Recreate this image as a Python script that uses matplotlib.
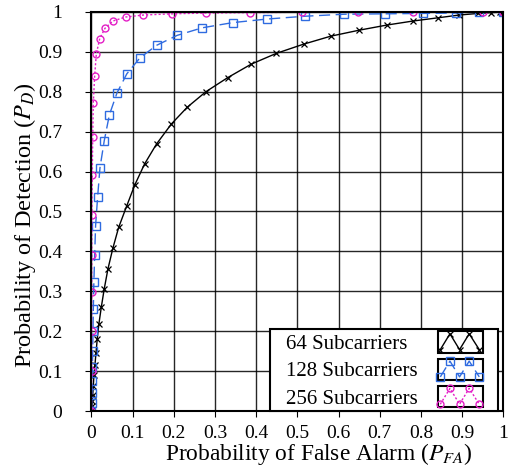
import matplotlib
matplotlib.use("Agg")
import matplotlib.pyplot as plt
from matplotlib.legend_handler import HandlerBase
from matplotlib.patches import Rectangle
from matplotlib.lines import Line2D
from matplotlib.offsetbox import DrawingArea
from matplotlib.ticker import FuncFormatter

plt.rcParams['font.family'] = ['Liberation Serif', 'DejaVu Serif']
plt.rcParams['mathtext.fontset'] = 'stix'

# ---- data ----
pfa_64 = [0, 0.001, 0.002, 0.003, 0.0045, 0.006, 0.0085, 0.011, 0.014, 0.018, 0.024,
          0.031, 0.040, 0.052, 0.066, 0.0857, 0.105, 0.129, 0.158, 0.194, 0.2325,
          0.278, 0.3305, 0.388, 0.449, 0.515, 0.581, 0.650, 0.718, 0.781, 0.841,
          0.893, 0.939, 0.969, 0.991, 1.0]
pd_64 = [0, 0.012, 0.025, 0.040, 0.062, 0.09, 0.116, 0.146, 0.180, 0.218, 0.261,
         0.306, 0.356, 0.408, 0.460, 0.514, 0.566, 0.619, 0.669, 0.719, 0.761,
         0.800, 0.835, 0.869, 0.896, 0.919, 0.939, 0.954, 0.967, 0.977, 0.985,
         0.992, 0.996, 0.998, 0.999, 1.0]

pfa_128 = [0, 0.0005, 0.001, 0.0015, 0.0022, 0.003, 0.0037, 0.0045, 0.0058, 0.0078,
           0.010, 0.015, 0.0206, 0.031, 0.0435, 0.062, 0.086, 0.118, 0.158, 0.208,
           0.269, 0.343, 0.427, 0.519, 0.614, 0.712, 0.804, 0.886, 0.94, 1.0]
pd_128 = [0, 0.02, 0.045, 0.075, 0.11, 0.15, 0.200, 0.256, 0.322, 0.392,
          0.464, 0.537, 0.609, 0.677, 0.742, 0.797, 0.845, 0.885, 0.916, 0.941,
          0.960, 0.973, 0.982, 0.989, 0.994, 0.995, 0.996, 0.997, 0.999, 1.0]

pfa_256 = [0, 0.0002, 0.0004, 0.0006, 0.0008, 0.001, 0.002, 0.003, 0.0044, 0.0078,
           0.0117, 0.020, 0.033, 0.052, 0.083, 0.126, 0.195, 0.278, 0.385, 0.51,
           0.647, 0.78, 0.95, 1.0]
pd_256 = [0, 0.1, 0.2, 0.297, 0.391, 0.491, 0.591, 0.687, 0.771, 0.840,
          0.894, 0.933, 0.959, 0.977, 0.987, 0.992, 0.995, 0.997, 0.998, 0.999,
          0.9995, 1.0, 1.0, 1.0]

labels = ['64 Subcarriers', '128 Subcarriers', '256 Subcarriers']
xticks = [0, 0.1, 0.2, 0.3, 0.4, 0.5, 0.6, 0.7, 0.8, 0.9, 1]
yticks = [0, 0.1, 0.2, 0.3, 0.4, 0.5, 0.6, 0.7, 0.8, 0.9, 1]


class BoxZigzag(HandlerBase):
    def create_artists(self, legend, orig_handle, xdescent, ydescent,
                       width, height, fontsize, trans):
        x0, y0 = -xdescent, -ydescent
        rect = Rectangle((x0, y0), width, height, facecolor='white',
                         edgecolor='black', lw=1.5, transform=trans)
        fx = [0.06, 0.27, 0.48, 0.69, 0.91]
        fy = [0.14, 0.88, 0.14, 0.88, 0.14]
        line = Line2D([x0 + width * f for f in fx], [y0 + height * f for f in fy])
        line.update_from(orig_handle)
        line.set_transform(trans)
        return [rect, line]


fig = plt.figure(figsize=(5.11, 4.73), dpi=100)
ax = fig.add_axes([0.179, 0.131, 0.806, 0.844])

c_blue = '#2f6be0'
c_mag = '#e31ec6'

l1, = ax.plot(pfa_64, pd_64, color='black', lw=1.0, ls='-', marker='x',
              ms=4.5, mew=0.9, label=labels[0])
l2, = ax.plot(pfa_128, pd_128, color=c_blue, lw=1.0, ls=(0, (8, 4)), marker='s',
              ms=5.5, mfc='none', mew=1.0, label=labels[1])
l3, = ax.plot(pfa_256, pd_256, color=c_mag, lw=1.0, ls=(0, (1.5, 1.5)), marker='o',
              ms=5, mfc='none', mew=1.0, label=labels[2])

ax.set_xlim(0, 1)
ax.set_ylim(0, 1)
ax.set_xticks(xticks)
ax.set_yticks(yticks)
fmt = FuncFormatter(lambda v, p: '%g' % v)
ax.xaxis.set_major_formatter(fmt)
ax.yaxis.set_major_formatter(fmt)
ax.grid(True, color='black', lw=1.0, alpha=0.85)
ax.set_axisbelow(True)
ax.tick_params(direction='out', length=4, width=0.8, labelsize=14)
ax.tick_params(axis='y', pad=17)
ax.tick_params(axis='x', pad=6)
for s in ax.spines.values():
    s.set_linewidth(1.5)

ax.set_xlabel('Probability of False Alarm ($P_{FA}$)', fontsize=16.8)
ax.set_ylabel('Probability of Detection ($P_D$)', fontsize=17.5)
ax.xaxis.set_label_coords(0.551, -0.074)
ax.yaxis.set_label_coords(-0.131, 0.466)

FS = 15
leg = ax.legend(handles=[l1, l2, l3], loc='lower right',
                bbox_to_anchor=(0.988, 0.0), borderaxespad=0,
                fontsize=FS, markerfirst=False, handlelength=2.2,
                handleheight=1.2, labelspacing=0.22, handletextpad=0.95,
                borderpad=0.12, columnspacing=0, fancybox=False, framealpha=1,
                handler_map={Line2D: BoxZigzag()})
leg.get_frame().set_edgecolor('black')
leg.get_frame().set_linewidth(1.5)

# left-align the labels (first label is one digit shorter) and add side margins
hbox = leg._legend_handle_box
col = hbox.get_children()[0]
items = col.get_children()
items[0].sep += 0.5 * FS
hbox._children.insert(0, DrawingArea(10, 0))
hbox._children.append(DrawingArea(9, 0))

fig.savefig('out.png', dpi=100)
